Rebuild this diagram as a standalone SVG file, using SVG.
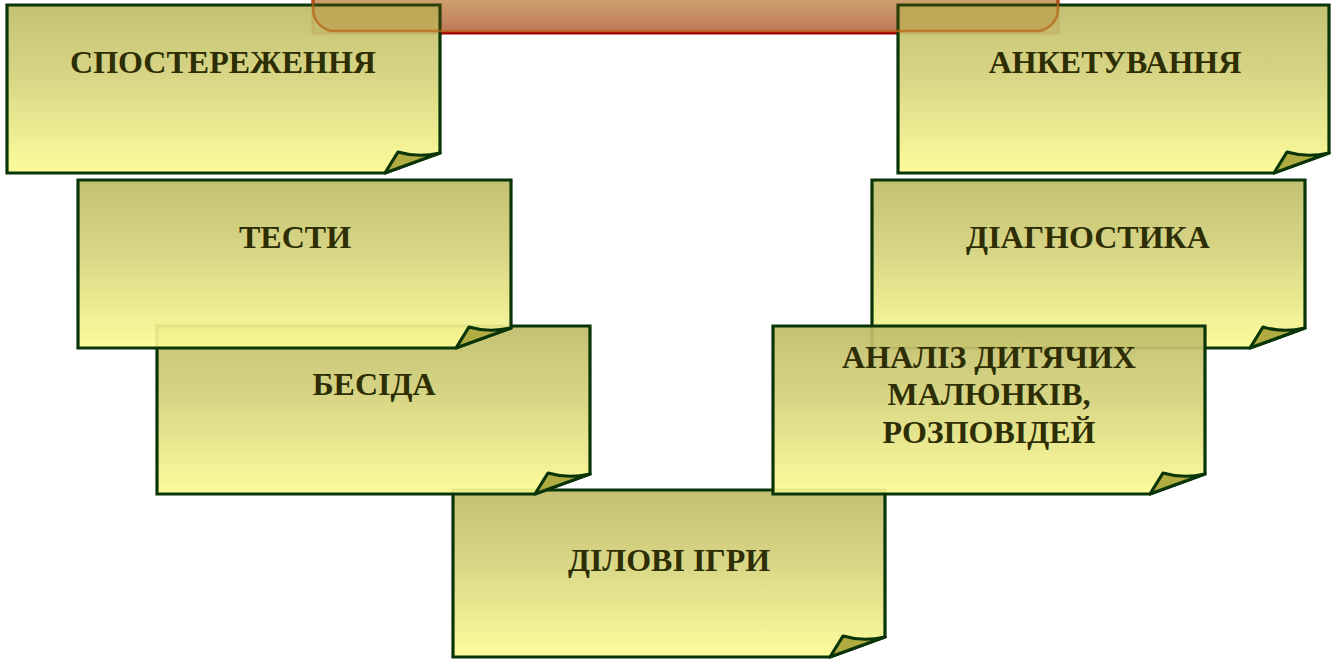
<svg xmlns="http://www.w3.org/2000/svg" width="1331" height="659" viewBox="0 0 1331 659">
<defs>
<linearGradient id="noteFill" x1="0" y1="0" x2="0" y2="1">
<stop offset="0" stop-color="#bebb68"/>
<stop offset="0.45" stop-color="#d6d47c"/>
<stop offset="1" stop-color="#fcfc94"/>
</linearGradient>
<linearGradient id="titleFill" x1="0" y1="0" x2="0" y2="1">
<stop offset="0" stop-color="#dcc290"/>
<stop offset="1" stop-color="#c27a6c"/>
</linearGradient>
<style>
.body{fill:url(#noteFill);fill-opacity:0.92;stroke:#0a3508;stroke-width:3.2;stroke-linejoin:miter}
.curl{fill:#b0ac42;stroke:#0a3508;stroke-width:3.2;stroke-linejoin:round}
.lbl{font-family:"Liberation Serif","Times New Roman",serif;font-weight:bold;font-size:32px;fill:#2e2e04;text-anchor:middle}
</style>
</defs>
<g id="title-base">
<rect x="313" y="-10" width="745" height="43" fill="url(#titleFill)" stroke="#a80000" stroke-width="3"/>
</g>
<g id="note-dilovi-igry">
<path class="body" d="M453,490 H885 V637 L830,657 H453 Z"/>
<path class="curl" d="M830,657 L843,636 Q863,642 885,637 Z"/>
<text class="lbl" x="669" y="571">ДІЛОВІ ІГРИ</text>
</g>
<g id="note-besida">
<path class="body" d="M157,326 H590 V474 L535,494 H157 Z"/>
<path class="curl" d="M535,494 L548,473 Q568,479 590,474 Z"/>
<text class="lbl" x="374" y="395">БЕСІДА</text>
</g>
<g id="note-testy">
<path class="body" d="M78,180 H511 V328 L456,348 H78 Z"/>
<path class="curl" d="M456,348 L469,327 Q489,333 511,328 Z"/>
<text class="lbl" x="295" y="248">ТЕСТИ</text>
</g>
<g id="note-sposterezhennia">
<path class="body" d="M7,5 H440 V153 L385,173 H7 Z"/>
<path class="curl" d="M385,173 L398,152 Q418,158 440,153 Z"/>
<text class="lbl" x="223" y="73">СПОСТЕРЕЖЕННЯ</text>
</g>
<g id="note-diagnostyka">
<path class="body" d="M872,180 H1305 V328 L1250,348 H872 Z"/>
<path class="curl" d="M1250,348 L1263,327 Q1283,333 1305,328 Z"/>
<text class="lbl" x="1088" y="248">ДІАГНОСТИКА</text>
</g>
<g id="note-analiz">
<path class="body" d="M773,326 H1205 V474 L1150,494 H773 Z"/>
<path class="curl" d="M1150,494 L1163,473 Q1183,479 1205,474 Z"/>
<text class="lbl" x="989" y="368">АНАЛІЗ ДИТЯЧИХ</text>
<text class="lbl" x="989" y="405">МАЛЮНКІВ,</text>
<text class="lbl" x="989" y="443">РОЗПОВІДЕЙ</text>
</g>
<g id="note-anketuvannia">
<path class="body" d="M898,5 H1329 V153 L1274,173 H898 Z"/>
<path class="curl" d="M1274,173 L1287,152 Q1307,158 1329,153 Z"/>
<text class="lbl" x="1115" y="73">АНКЕТУВАННЯ</text>
</g>
<g id="title-overlay">
<rect x="313" y="-30" width="745" height="61" rx="22" fill="#b06a10" fill-opacity="0.22" stroke="#b8681a" stroke-opacity="0.75" stroke-width="2.5"/>
</g>
</svg>
